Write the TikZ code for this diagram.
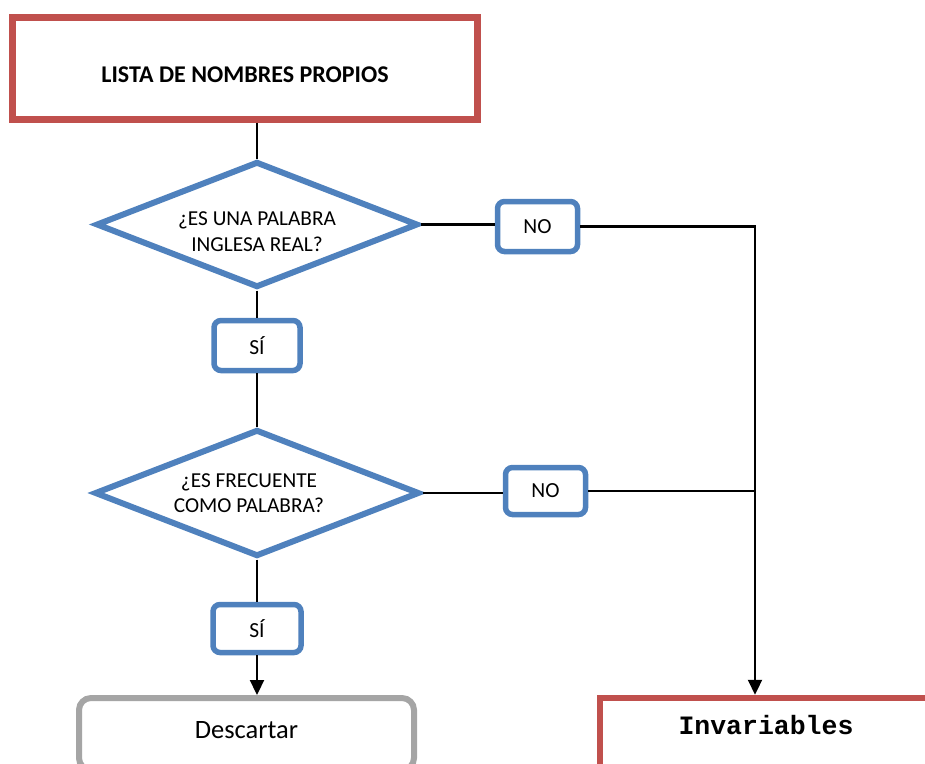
\documentclass[tikz,border=0pt]{standalone}
\usepackage{fontspec}
\setmainfont{Carlito}
\newfontfamily\monofnt{Liberation Mono}
\usetikzlibrary{shapes.geometric,arrows.meta}
\definecolor{redb}{HTML}{C0504D}
\definecolor{blueb}{HTML}{4F81BD}
\definecolor{grayb}{HTML}{A5A5A5}
\begin{document}
\begin{tikzpicture}[x=1pt,y=-1pt,
 redbox/.style={draw=redb,line width=6.5pt,rectangle,inner sep=0pt,fill=white},
 graybox/.style={draw=grayb,line width=6pt,rectangle,rounded corners=12pt,inner sep=0pt,fill=white},
 decision/.style={draw=blueb,line width=6pt,diamond,inner sep=0pt,fill=white},
 answer/.style={draw=blueb,line width=5.5pt,rectangle,rounded corners=7pt,inner sep=0pt,fill=white,font=\fontsize{21.5}{25}\selectfont},
 qtext/.style={font=\fontsize{21.3}{25.5}\selectfont,align=center},
 conn/.style={line width=2.2pt},
 arr/.style={conn,-{Triangle[width=14pt,length=15pt]}}
]
\clip (0,0) rectangle (925,763);
\useasboundingbox (0,0) rectangle (925,763);

% nodes
\node[redbox,minimum width=465pt,minimum height=102pt,
  label={[font=\fontsize{24}{29}\selectfont\bfseries,yshift=-6pt]center:LISTA DE NOMBRES PROPIOS}] (top) at (245,68.5) {};

\node[decision,minimum width=322pt,minimum height=126pt,
  label={[qtext,yshift=-7pt]center:¿ES UNA PALABRA\\INGLESA REAL?}] (d1) at (257,224.5) {};

\node[answer,minimum width=80pt,minimum height=50pt] (no1) at (537.5,226.5) {NO};

\node[answer,minimum width=86pt,minimum height=50pt] (si1) at (257,345.5) {SÍ};

\node[decision,minimum width=325pt,minimum height=127pt,
  label={[qtext,xshift=-8pt]center:¿ES FRECUENTE\\COMO PALABRA?}] (d2) at (257,493) {};

\node[answer,minimum width=80pt,minimum height=47pt] (no2) at (545.5,491) {\raisebox{-6pt}{NO}};

\node[answer,minimum width=88pt,minimum height=48pt] (si2) at (257,628.5) {SÍ};

\node[graybox,minimum width=335pt,minimum height=72pt,
  label={[font=\fontsize{26.5}{31}\selectfont,yshift=4pt]center:Descartar}] (desc) at (246.5,734) {};

\node[redbox,minimum width=400pt,minimum height=92pt,
  label={[font=\monofnt\bfseries\fontsize{26.5}{30}\selectfont,xshift=-34pt,yshift=19pt]center:Invariables}] (inv) at (800,744) {};

\coordinate (j) at (755,491);

% connectors
\draw[conn] (top.south -| d1.north) -- (d1.north);
\draw[conn] (d1.south) -- (d1.south |- si1.north);
\draw[conn] (si1.south) -- (si1.south |- d2.north);
\draw[conn] (d2.south) -- (d2.south |- si2.north);
\draw[arr] (si2.south) -- (si2.south |- desc.north);
\draw[conn] (d1.east) -- (d1.east -| no1.west);
\draw[conn] (d2.east) -- (d2.east -| no2.west);
\draw[arr] (no1.east) -- (no1.east -| j) -- (j |- inv.north);
\draw[conn] (no2.east) -- (j);
\end{tikzpicture}
\end{document}
